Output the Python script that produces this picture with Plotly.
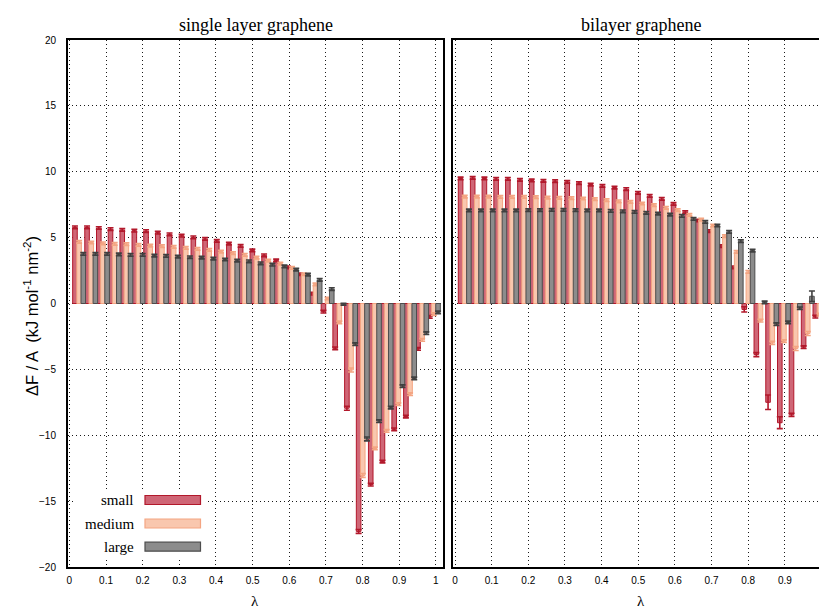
import plotly.graph_objects as go

# ---------------- data ----------------
lam = [0.032, 0.065, 0.097, 0.129, 0.161, 0.194, 0.226, 0.258, 0.290, 0.323,
       0.355, 0.387, 0.419, 0.452, 0.484, 0.516, 0.548, 0.581, 0.613, 0.645,
       0.677, 0.710, 0.742, 0.774, 0.806, 0.839, 0.871, 0.903, 0.935, 0.968, 1.000]

single_small = [5.78, 5.78, 5.73, 5.65, 5.58, 5.53, 5.50, 5.38, 5.25, 5.15,
                5.02, 4.90, 4.75, 4.55, 4.37, 4.03, 3.66, 3.27, 2.75, 2.22,
                0.75, -0.62, -3.40, -7.95, -17.30, -13.75, -12.00, -9.55, -8.58, -3.45, -1.02]
single_medium = [4.67, 4.63, 4.57, 4.52, 4.50, 4.45, 4.40, 4.35, 4.29, 4.22,
                 4.14, 4.07, 3.94, 3.82, 3.69, 3.49, 3.26, 3.03, 2.70, 2.22,
                 1.45, 0.38, -1.44, -5.05, -13.05, -11.00, -9.67, -7.64, -6.88, -2.76, -0.81]
single_large = [3.76, 3.76, 3.76, 3.72, 3.69, 3.69, 3.64, 3.61, 3.56, 3.51,
                3.49, 3.41, 3.34, 3.26, 3.20, 3.05, 2.95, 2.81, 2.58, 2.20,
                1.80, 1.10, -0.06, -3.09, -10.28, -8.93, -7.90, -6.28, -5.69, -2.25, -0.68]

single_small_err = [0.1] * 22 + [0.1, 0.15, 0.15, 0.1, 0.1, 0.1, 0.1, 0.1, 0.1]
single_medium_err = [0.1] * 22 + [0.1, 0.15, 0.15, 0.1, 0.1, 0.1, 0.1, 0.1, 0.1]
single_large_err = [0.1] * 22 + [0.07, 0.1, 0.15, 0.1, 0.1, 0.1, 0.1, 0.1, 0.1]

bilayer_small = [9.49, 9.53, 9.49, 9.46, 9.46, 9.38, 9.34, 9.31, 9.28, 9.23,
                 9.13, 9.03, 8.92, 8.80, 8.68, 8.40, 8.17, 7.94, 7.56, 6.93,
                 6.30, 5.50, 4.35, 2.75, -0.45, -3.88, -7.50, -9.05, -8.45, -3.32, -1.00]
bilayer_medium = [8.12, 8.12, 8.12, 8.09, 8.09, 8.09, 8.07, 8.04, 8.02, 7.99,
                  7.97, 7.92, 7.84, 7.76, 7.71, 7.59, 7.46, 7.26, 7.08, 6.72,
                  6.37, 5.92, 5.11, 3.91, 2.40, -1.30, -2.98, -2.85, -3.42, -2.28, -0.85]
bilayer_large = [7.06, 7.06, 7.06, 7.06, 7.06, 7.08, 7.08, 7.10, 7.10, 7.08,
                 7.06, 7.06, 7.03, 7.00, 6.95, 6.88, 6.83, 6.75, 6.65, 6.42,
                 6.19, 5.92, 5.43, 4.73, 4.02, 0.08, -1.57, -1.44, -0.36, 0.55, -0.70]

bilayer_small_err = [0.1] * 24 + [0.2, 0.15, 0.55, 0.45, 0.12, 0.1, 0.1]
bilayer_medium_err = [0.1] * 24 + [0.1, 0.1, 0.12, 0.1, 0.15, 0.15, 0.1]
bilayer_large_err = [0.1] * 29 + [0.4, 0.1]

series_names = ["small", "medium", "large"]
panel_titles = ["single layer graphene", "bilayer graphene"]
y_ticks = [-20, -15, -10, -5, 0, 5, 10, 15, 20]
x_ticks_left = [0, 0.1, 0.2, 0.3, 0.4, 0.5, 0.6, 0.7, 0.8, 0.9, 1]
x_ticks_right = [0, 0.1, 0.2, 0.3, 0.4, 0.5, 0.6, 0.7, 0.8, 0.9]

# ---------------- style ----------------
W_FIG, H_FIG = 819, 608
FILL = {"small": "#cf6676", "medium": "#f9c7ae", "large": "#8c8c8c"}
EDGE = {"small": "#b2182b", "medium": "#f4a582", "large": "#4d4d4d"}
ERRC = {"small": "#b2182b", "medium": "#f4a582", "large": "#404040"}
SHIFT = {"small": -0.0168, "medium": -0.0055, "large": 0.0059}
BW = 0.0125


def px(x):
    return x / W_FIG


def py(y):
    return 1 - y / H_FIG


fig = go.Figure()

panels = [
    ("x", "y", [single_small, single_medium, single_large],
     [single_small_err, single_medium_err, single_large_err]),
    ("x2", "y2", [bilayer_small, bilayer_medium, bilayer_large],
     [bilayer_small_err, bilayer_medium_err, bilayer_large_err]),
]

for xa, ya, vals, errs in panels:
    for name, v, e in zip(series_names, vals, errs):
        fig.add_trace(go.Bar(
            x=[l + SHIFT[name] for l in lam], y=v, width=BW,
            xaxis=xa, yaxis=ya, name=name, showlegend=False,
            marker=dict(color=FILL[name], line=dict(color=EDGE[name], width=1)),
            error_y=dict(type="data", array=e, color=ERRC[name], thickness=1.6, width=3),
        ))

grid = dict(showgrid=True, gridcolor="rgba(0,0,0,0.9)", gridwidth=1, griddash="1px,3px",
            zeroline=False, showline=True, linecolor="black", linewidth=2,
            ticks="", tickfont=dict(family="Liberation Sans", size=10, color="black"))

dom_y = [py(567), py(40)]
fig.update_layout(
    width=W_FIG, height=H_FIG,
    margin=dict(l=0, r=0, t=0, b=0, autoexpand=False),
    paper_bgcolor="white", plot_bgcolor="white",
    barmode="overlay", showlegend=False,
    xaxis=dict(domain=[px(68), px(443)], range=[-0.0038, 1.0194],
               tickvals=x_ticks_left, ticktext=[str(t) for t in x_ticks_left],
               mirror=True, ticklabelstandoff=3, automargin=False, **grid),
    yaxis=dict(domain=dom_y, range=[-20, 20], tickvals=y_ticks,
               mirror=True, ticklabelstandoff=8, automargin=False, **grid),
    xaxis2=dict(domain=[px(453), 1.0], range=[-0.0055, 0.9932], anchor="y2",
                tickvals=x_ticks_right, ticktext=[str(t) for t in x_ticks_right],
                mirror=True, ticklabelstandoff=3, automargin=False, **grid),
    yaxis2=dict(domain=dom_y, range=[-20, 20], tickvals=y_ticks, anchor="x2",
                showticklabels=False, mirror=False, automargin=False, **grid),
)

ann = []
ann.append(dict(x=px(256), y=py(25), text=panel_titles[0], showarrow=False,
                xref="paper", yref="paper", xanchor="center", yanchor="middle",
                font=dict(family="Liberation Serif", size=18, color="black")))
ann.append(dict(x=px(641), y=py(25), text=panel_titles[1], showarrow=False,
                xref="paper", yref="paper", xanchor="center", yanchor="middle",
                font=dict(family="Liberation Serif", size=18, color="black")))
for xc in (255, 641):
    ann.append(dict(x=px(xc), y=py(601), text="λ", showarrow=False,
                    xref="paper", yref="paper", xanchor="center", yanchor="middle",
                    font=dict(family="Liberation Serif", size=15, color="black")))
ann.append(dict(x=px(31), y=py(316), text="ΔF / A  (kJ mol<sup>-1</sup> nm<sup>-2</sup>)",
                textangle=-90, showarrow=False, xref="paper", yref="paper",
                xanchor="center", yanchor="middle",
                font=dict(family="Liberation Sans", size=16.5, color="black")))

shapes = [dict(type="rect", xref="paper", yref="paper", x0=px(76), x1=px(206),
               y0=py(558), y1=py(489), fillcolor="white", line=dict(width=0), layer="above")]
leg_y = {"small": 500, "medium": 523.5, "large": 546.7}
for name in series_names:
    yc = leg_y[name]
    ann.append(dict(x=px(136), y=py(yc), text=name, showarrow=False,
                    xref="paper", yref="paper", xanchor="right", yanchor="middle",
                    font=dict(family="Liberation Serif", size=15, color="black")))
    shapes.append(dict(type="rect", xref="paper", yref="paper",
                       x0=px(145), x1=px(200.5), y0=py(yc + 4.5), y1=py(yc - 4.5),
                       fillcolor=FILL[name], line=dict(color=EDGE[name], width=1.2),
                       layer="above"))

fig.update_layout(annotations=ann, shapes=shapes)
fig.write_html("out.html")
